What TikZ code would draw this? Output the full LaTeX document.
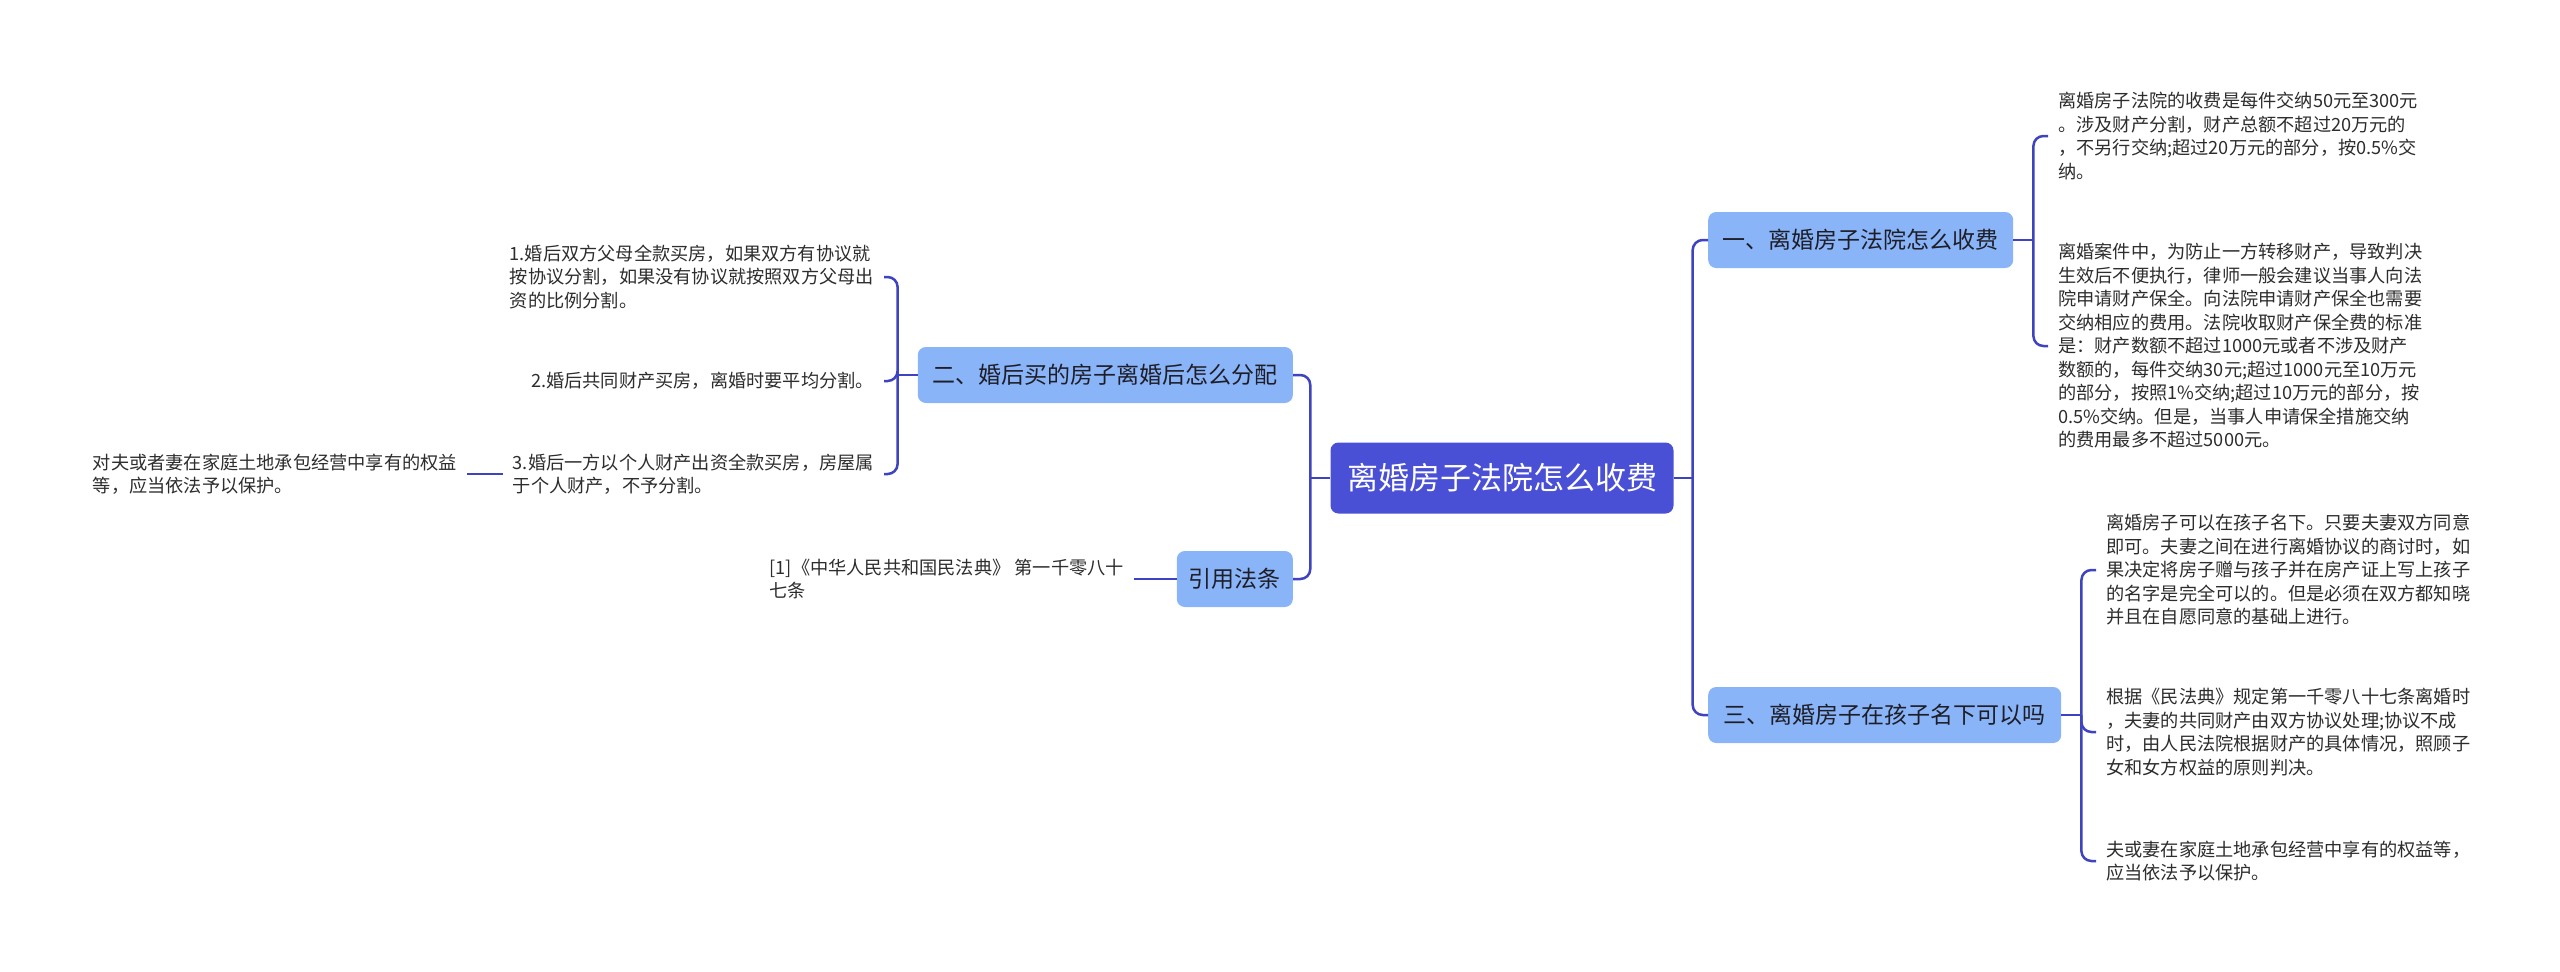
\documentclass[tikz,border=0pt]{standalone}
\usepackage{fontspec}
\setmainfont{Noto Sans CJK SC}
\usetikzlibrary{calc}
\definecolor{rootc}{RGB}{74,80,214}
\definecolor{brc}{RGB}{138,180,248}
\definecolor{linec}{RGB}{62,67,192}
\definecolor{leafc}{RGB}{45,45,45}
\definecolor{brtext}{RGB}{30,30,40}
\begin{document}
\begin{tikzpicture}[x=1pt,y=-1pt,
  rootbox/.style={rounded corners=8pt, fill=rootc, text=white, font=\fontsize{31}{36}\selectfont,
    minimum width=343pt, minimum height=71pt, inner sep=0pt},
  branchbox/.style={rounded corners=8pt, fill=brc, text=brtext, font=\fontsize{23}{28}\selectfont,
    minimum height=56pt, inner xsep=10pt, inner ysep=0pt},
  leaf/.style={align=left, text=leafc, font=\fontsize{18.2}{23.5}\selectfont, inner xsep=10pt, inner ysep=1pt},
  conn/.style={draw=linec, line width=2.5pt, rounded corners=10pt}
]
\fill[white] (0,0) rectangle (2560,972);
\useasboundingbox (0,0) rectangle (2560,972);

% root and branches
\node[rootbox] (root) at (1502,478) {离婚房子法院怎么收费};
\node[branchbox, anchor=west, minimum width=305pt] (b1) at (1708,240) {一、离婚房子法院怎么收费};
\node[branchbox, anchor=west, minimum width=353pt] (b3) at (1708,715) {三、离婚房子在孩子名下可以吗};
\node[branchbox, anchor=east, minimum width=375pt] (b2) at (1293,375) {二、婚后买的房子离婚后怎么分配};
\node[branchbox, anchor=east, minimum width=116pt] (bc) at (1293,579) {引用法条};

% right-top leaves
\node[leaf, anchor=west] (r1) at (2048,136) {离婚房子法院的收费是每件交纳50元至300元\\。涉及财产分割，财产总额不超过20万元的\\，不另行交纳;超过20万元的部分，按0.5\%交\\纳。};
\node[leaf, anchor=west] (r2) at (2048,346) {离婚案件中，为防止一方转移财产，导致判决\\生效后不便执行，律师一般会建议当事人向法\\院申请财产保全。向法院申请财产保全也需要\\交纳相应的费用。法院收取财产保全费的标准\\是：财产数额不超过1000元或者不涉及财产\\数额的，每件交纳30元;超过1000元至10万元\\的部分，按照1\%交纳;超过10万元的部分，按\\0.5\%交纳。但是，当事人申请保全措施交纳\\的费用最多不超过5000元。};

% right-bottom leaves
\node[leaf, anchor=west] (r3a) at (2096,570) {离婚房子可以在孩子名下。只要夫妻双方同意\\即可。夫妻之间在进行离婚协议的商讨时，如\\果决定将房子赠与孩子并在房产证上写上孩子\\的名字是完全可以的。但是必须在双方都知晓\\并且在自愿同意的基础上进行。};
\node[leaf, anchor=west] (r3b) at (2096,732) {根据《民法典》规定第一千零八十七条离婚时\\，夫妻的共同财产由双方协议处理;协议不成\\时，由人民法院根据财产的具体情况，照顾子\\女和女方权益的原则判决。};
\node[leaf, anchor=west] (r3c) at (2096,861) {夫或妻在家庭土地承包经营中享有的权益等，\\应当依法予以保护。};

% left leaves
\node[leaf, anchor=east] (l1) at (884,277) {1.婚后双方父母全款买房，如果双方有协议就\\按协议分割，如果没有协议就按照双方父母出\\资的比例分割。};
\node[leaf, anchor=east] (l2) at (884,381) {2.婚后共同财产买房，离婚时要平均分割。};
\node[leaf, anchor=east] (l3) at (884,474) {3.婚后一方以个人财产出资全款买房，房屋属\\于个人财产，不予分割。};
\node[leaf, anchor=east] (ll) at (467,474) {对夫或者妻在家庭土地承包经营中享有的权益\\等，应当依法予以保护。};
\node[leaf, anchor=east] (cl) at (1134,579) {[1]《中华人民共和国民法典》 第一千零八十\\七条};

% junction coordinates
\coordinate (rj) at ($(root.east)+(19,0)$);
\coordinate (lj) at ($(root.west)+(-20,0)$);
\coordinate (b1j) at ($(b1.east)+(20,0)$);
\coordinate (b3j) at ($(b3.east)+(20,0)$);
\coordinate (b2j) at ($(b2.west)+(-20,0)$);

% connectors
\draw[conn] (root.east) -- (rj);
\draw[conn] (b1.west) -| (rj);
\draw[conn] (b3.west) -| (rj);
\draw[conn] (root.west) -- (lj);
\draw[conn] (b2.east) -| (lj);
\draw[conn] (bc.east) -| (lj);

\draw[conn] (b1.east) -- (b1j);
\draw[conn] (r1.west) -| (b1j);
\draw[conn] (r2.west) -| (b1j);

\draw[conn] (b3.east) -- (b3j);
\draw[conn] (r3a.west) -| (b3j);
\draw[conn] (r3b.west) -| (b3j);
\draw[conn] (r3c.west) -| (b3j);

\draw[conn] (b2.west) -- (b2j);
\draw[conn] (l1.east) -| (b2j);
\draw[conn] (l2.east) -| (b2j);
\draw[conn] (l3.east) -| (b2j);

\draw[conn] (ll.east) -- (l3.west);
\draw[conn] (cl.east) -- (bc.west);
\end{tikzpicture}
\end{document}
